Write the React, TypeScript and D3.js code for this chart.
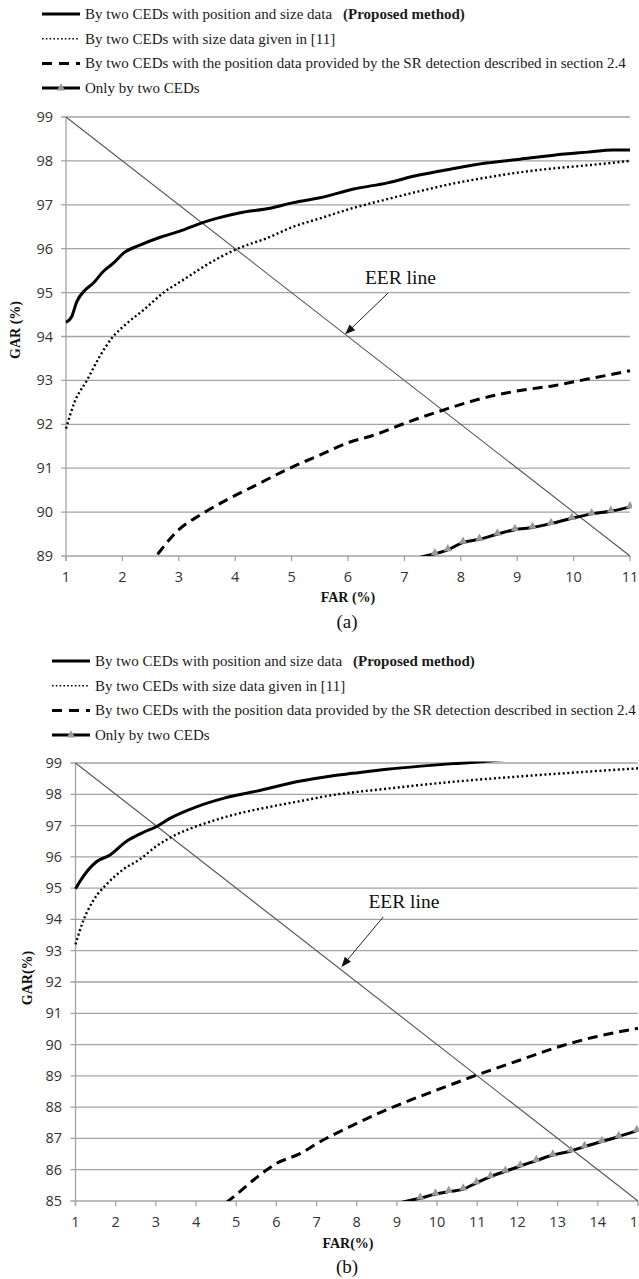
import * as d3 from "d3";
import React from "react";

type Pt = [number, number];

// ---- legend ----
const LEGEND_LABELS = [
  "By two CEDs with position and size data",
  "By two CEDs with size data given in [11]",
  "By two CEDs with the position data provided by the SR detection described in section 2.4",
  "Only by two CEDs",
];
const LEGEND_NOTE = "(Proposed method)";

// ---- panel (a) ----
const A_X_TICKS = [1, 2, 3, 4, 5, 6, 7, 8, 9, 10, 11];
const A_Y_TICKS = [89, 90, 91, 92, 93, 94, 95, 96, 97, 98, 99];
const A_EER: Pt[] = [[1, 99], [11, 89]];
const A_PROPOSED: Pt[] = [
  [1, 94.32], [1.1, 94.45], [1.19, 94.79], [1.34, 95.06], [1.48, 95.21], [1.66, 95.48],
  [1.84, 95.67], [2.02, 95.9], [2.31, 96.08], [2.67, 96.26], [3.02, 96.4], [3.41, 96.59],
  [3.67, 96.69], [4.09, 96.82], [4.62, 96.92], [5.03, 97.05], [5.5, 97.16], [6.1, 97.36],
  [6.7, 97.5], [7.2, 97.66], [7.85, 97.82], [8.45, 97.95], [9.05, 98.04], [9.65, 98.13],
  [10.25, 98.2], [10.7, 98.25], [11, 98.25],
];
const A_SIZE_ONLY: Pt[] = [
  [1, 91.9], [1.15, 92.5], [1.37, 93.0], [1.6, 93.55], [1.81, 93.96], [2.08, 94.3],
  [2.37, 94.6], [2.73, 95.0], [3.08, 95.29], [3.44, 95.59], [4.06, 96.01], [4.56, 96.24],
  [5.03, 96.5], [5.5, 96.69], [6.1, 96.93], [6.7, 97.13], [7.3, 97.32], [7.85, 97.48],
  [8.45, 97.62], [9.05, 97.74], [9.65, 97.83], [10.25, 97.9], [11, 98.0],
];
const A_SR_POSITION: Pt[] = [
  [2.45, 88.75], [2.6, 89.0], [3.0, 89.6], [3.4, 89.95], [3.85, 90.28], [4.3, 90.57],
  [5.0, 91.02], [5.5, 91.3], [6.0, 91.58], [6.5, 91.77], [7.0, 92.02], [7.7, 92.33],
  [8.35, 92.58], [9.05, 92.77], [9.65, 92.88], [10.25, 93.03], [11, 93.22],
];
const A_CEDS_ONLY: Pt[] = [
  [6.9, 88.85], [7.22, 88.95], [7.54, 89.05], [7.77, 89.14], [8.04, 89.31], [8.33, 89.38],
  [8.65, 89.5], [8.96, 89.6], [9.27, 89.65], [9.6, 89.74], [9.97, 89.86], [10.32, 89.96],
  [10.66, 90.02], [11, 90.12],
];

// ---- panel (b) ----
const B_X_TICKS = [1, 2, 3, 4, 5, 6, 7, 8, 9, 10, 11, 12, 13, 14, 15];
const B_Y_TICKS = [85, 86, 87, 88, 89, 90, 91, 92, 93, 94, 95, 96, 97, 98, 99];
const B_EER: Pt[] = [[1, 99], [15, 85]];
const B_PROPOSED: Pt[] = [
  [1, 94.98], [1.19, 95.37], [1.53, 95.85], [1.86, 96.06], [2.27, 96.5], [2.65, 96.76],
  [3.02, 96.97], [3.35, 97.23], [4.01, 97.6], [4.68, 97.87], [5.51, 98.1], [6.5, 98.4],
  [7.33, 98.58], [7.9, 98.67], [8.75, 98.8], [9.6, 98.9], [10.4, 98.98], [11.0, 99.03],
  [12, 99.15],
];
const B_SIZE_ONLY: Pt[] = [
  [1, 93.2], [1.19, 93.95], [1.44, 94.6], [1.78, 95.13], [2.19, 95.6], [2.6, 95.92],
  [3.02, 96.35], [3.52, 96.72], [4.18, 97.05], [5.01, 97.37], [5.84, 97.6], [6.67, 97.8],
  [7.33, 97.96], [8.75, 98.18], [10.4, 98.4], [12.05, 98.57], [13.7, 98.72], [15, 98.83],
];
const B_SR_POSITION: Pt[] = [
  [4.75, 84.95], [4.94, 85.14], [5.43, 85.67], [6.0, 86.2], [6.6, 86.52], [7.0, 86.83],
  [7.9, 87.42], [8.9, 88.0], [10.0, 88.55], [11.0, 89.03], [12.05, 89.5], [13.15, 89.98],
  [13.95, 90.25], [15, 90.52],
];
const B_CEDS_ONLY: Pt[] = [
  [9.0, 84.92], [9.29, 85.01], [9.58, 85.09], [9.96, 85.22], [10.29, 85.3], [10.65, 85.38],
  [10.98, 85.58], [11.33, 85.78], [11.7, 85.95], [12.07, 86.12], [12.47, 86.29], [12.88, 86.47],
  [13.33, 86.6], [13.67, 86.74], [14.1, 86.9], [14.52, 87.06], [14.97, 87.25],
];

const SERIF = "'Liberation Serif', 'Times New Roman', serif";
const SANS = "'Open Sans', 'DejaVu Sans', sans-serif";
const GRID = "#a3a3a3";

const triPath = d3.symbol(d3.symbolTriangle, 30)() as string;

function Legend({ x, y }: { x: number; y: number }) {
  const step = 24.7;
  return (
    <g fontFamily={SERIF} fontSize={15} fill="#1a1a1a">
      {LEGEND_LABELS.map((lab, i) => {
        const cy = y + i * step;
        return (
          <g key={i}>
            {i === 0 && <line x1={x} x2={x + 38} y1={cy} y2={cy} stroke="#000" strokeWidth={3} />}
            {i === 1 && (
              <line x1={x} x2={x + 38} y1={cy} y2={cy} stroke="#000" strokeWidth={1.6} strokeDasharray="1.6 2.2" />
            )}
            {i === 2 && (
              <line x1={x} x2={x + 38} y1={cy} y2={cy} stroke="#000" strokeWidth={3} strokeDasharray="10 7" />
            )}
            {i === 3 && (
              <g>
                <line x1={x} x2={x + 38} y1={cy} y2={cy} stroke="#000" strokeWidth={3} />
                <path d={triPath} transform={`translate(${x + 19},${cy})`} fill="#9a9a9a" />
              </g>
            )}
            <text x={x + 43} y={cy + 5}>
              {lab}
              {i === 0 && (
                <tspan fontWeight="bold" dx={11}>
                  {LEGEND_NOTE}
                </tspan>
              )}
            </text>
          </g>
        );
      })}
    </g>
  );
}

type PanelProps = {
  id: string;
  xTicks: number[];
  yTicks: number[];
  xRange: [number, number];
  yRange: [number, number];
  eer: Pt[];
  proposed: Pt[];
  sizeOnly: Pt[];
  srPos: Pt[];
  cedsOnly: Pt[];
  yLabel: string;
  yLabelPos: [number, number];
  xLabel: string;
  xLabelY: number;
  caption: string;
  captionY: number;
  labelRightX: number;
  eerText: { tx: number; ty: number; from: Pt; to: Pt };
};

function Panel(p: PanelProps) {
  const x = d3.scaleLinear().domain(d3.extent(p.xTicks) as [number, number]).range(p.xRange);
  const y = d3.scaleLinear().domain(d3.extent(p.yTicks) as [number, number]).range(p.yRange);
  const line = d3.line<Pt>().x((d) => x(d[0])).y((d) => y(d[1])).curve(d3.curveMonotoneX);
  const straight = d3.line<Pt>().x((d) => x(d[0])).y((d) => y(d[1]));
  const [x0, x1] = p.xRange;
  const [yb, yt] = p.yRange;
  const ymin = d3.min(p.yTicks) as number;
  const a = p.eerText;
  const fx = x(a.from[0]), fy = y(a.from[1]);
  const tx = x(a.to[0]), ty = y(a.to[1]);
  const ang = Math.atan2(ty - fy, tx - fx);
  const hl = 10, hw = 4;
  const head = [
    [tx, ty],
    [tx - hl * Math.cos(ang) + hw * Math.sin(ang), ty - hl * Math.sin(ang) - hw * Math.cos(ang)],
    [tx - hl * Math.cos(ang) - hw * Math.sin(ang), ty - hl * Math.sin(ang) + hw * Math.cos(ang)],
  ];
  return (
    <g>
      <defs>
        <clipPath id={`clip-${p.id}`}>
          <rect x={x0 - 2} y={yt - 1.5} width={x1 - x0 + 4} height={yb - yt + 1.5} />
        </clipPath>
      </defs>
      {/* grid */}
      {p.yTicks.map((t) => (
        <g key={t}>
          <line x1={x0 - 5} x2={x1} y1={y(t)} y2={y(t)} stroke={GRID} strokeWidth={1.3} />
          <text
            x={p.labelRightX}
            y={y(t) + 5}
            textAnchor="end"
            fontFamily={SANS}
            fontSize={14.5}
            fill="#333"
          >
            {t}
          </text>
        </g>
      ))}
      <line x1={x0} x2={x0} y1={yt} y2={yb + 5} stroke={GRID} strokeWidth={1.3} />
      {p.xTicks.map((t) => (
        <g key={t}>
          <line x1={x(t)} x2={x(t)} y1={yb} y2={yb + 5} stroke={GRID} strokeWidth={1.3} />
          <text x={x(t)} y={yb + 26} textAnchor="middle" fontFamily={SANS} fontSize={14.5} fill="#333">
            {t}
          </text>
        </g>
      ))}
      {/* EER diagonal */}
      <path d={straight(p.eer) as string} stroke="#555" strokeWidth={1.1} fill="none" />
      <g clipPath={`url(#clip-${p.id})`} fill="none">
        <path d={line(p.sizeOnly) as string} stroke="#000" strokeWidth={2.4} strokeDasharray="2 2.6" />
        <path d={line(p.srPos) as string} stroke="#000" strokeWidth={3} strokeDasharray="10 6" />
        <path d={line(p.proposed) as string} stroke="#000" strokeWidth={3} />
        <path d={line(p.cedsOnly) as string} stroke="#000" strokeWidth={3} />
        {p.cedsOnly
          .filter((d) => d[1] >= ymin + 0.04)
          .map((d, i) => (
            <path key={i} d={triPath} transform={`translate(${x(d[0])},${y(d[1]) - 1})`} fill="#9a9a9a" />
          ))}
      </g>
      {/* EER annotation */}
      <text x={x(a.tx)} y={y(a.ty)} fontFamily={SERIF} fontSize={19.5} fill="#111">
        EER line
      </text>
      <line x1={fx} y1={fy} x2={tx - 8 * Math.cos(ang)} y2={ty - 8 * Math.sin(ang)} stroke="#222" strokeWidth={1} />
      <polygon points={head.map((q) => q.join(",")).join(" ")} fill="#111" />
      {/* axis titles */}
      <text
        transform={`translate(${p.yLabelPos[0]},${p.yLabelPos[1]}) rotate(-90)`}
        textAnchor="middle"
        fontFamily={SERIF}
        fontWeight="bold"
        fontSize={14}
        fill="#111"
      >
        {p.yLabel}
      </text>
      <text x={348} y={p.xLabelY} textAnchor="middle" fontFamily={SERIF} fontWeight="bold" fontSize={14} fill="#111">
        {p.xLabel}
      </text>
      <text x={347} y={p.captionY} textAnchor="middle" fontFamily={SERIF} fontSize={19} fill="#111">
        {p.caption}
      </text>
    </g>
  );
}

export default function App() {
  return (
    <svg
      width={639}
      height={1279}
      style={{ position: "absolute", left: 0, top: 0, background: "#fff" }}
    >
      <rect width={639} height={1279} fill="#fff" />
      <Legend x={42} y={14} />
      <Panel
        id="a"
        xTicks={A_X_TICKS}
        yTicks={A_Y_TICKS}
        xRange={[66, 630]}
        yRange={[556, 117]}
        eer={A_EER}
        proposed={A_PROPOSED}
        sizeOnly={A_SIZE_ONLY}
        srPos={A_SR_POSITION}
        cedsOnly={A_CEDS_ONLY}
        yLabel="GAR (%)"
        yLabelPos={[20, 330]}
        xLabel="FAR (%)"
        xLabelY={602}
        caption="(a)"
        captionY={628}
        labelRightX={53}
        eerText={{ tx: 6.3, ty: 95.2, from: [6.71, 94.99], to: [5.95, 94.05] }}
      />
      <Legend x={52} y={661} />
      <Panel
        id="b"
        xTicks={B_X_TICKS}
        yTicks={B_Y_TICKS}
        xRange={[75.5, 638]}
        yRange={[1201, 763]}
        eer={B_EER}
        proposed={B_PROPOSED}
        sizeOnly={B_SIZE_ONLY}
        srPos={B_SR_POSITION}
        cedsOnly={B_CEDS_ONLY}
        yLabel="GAR(%)"
        yLabelPos={[32, 978]}
        xLabel="FAR(%)"
        xLabelY={1248}
        caption="(b)"
        captionY={1273}
        labelRightX={62}
        eerText={{ tx: 8.29, ty: 94.37, from: [8.66, 94.08], to: [7.62, 92.48] }}
      />
    </svg>
  );
}
